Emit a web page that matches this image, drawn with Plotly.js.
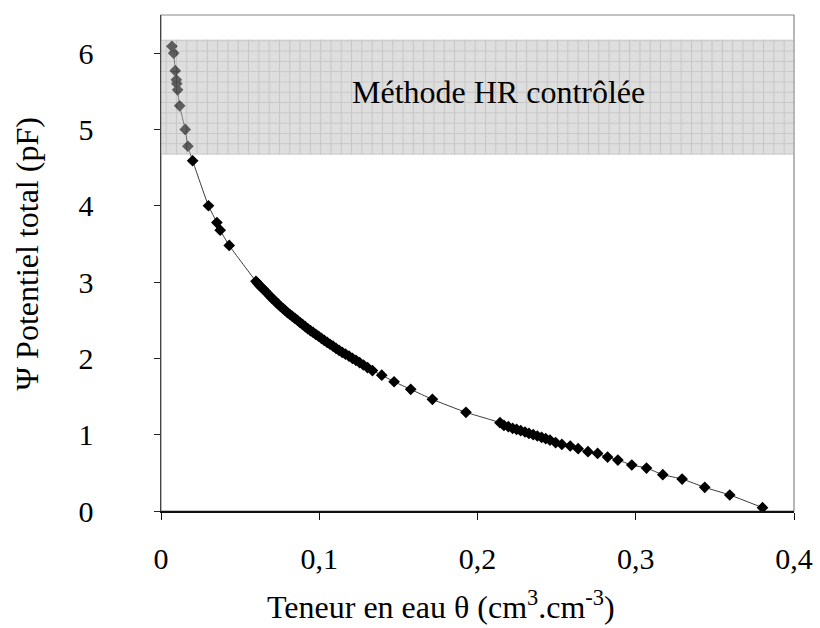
<!DOCTYPE html>
<html>
<head>
<meta charset="utf-8">
<script src="https://cdn.plot.ly/plotly-3.0.1.min.js"></script>
<style>html,body{margin:0;padding:0;background:#fff;}#chart{width:820px;height:628px;}</style>
</head>
<body>
<div id="chart"></div>
<script>
// Teneur en eau θ (cm3.cm-3)
const theta = [
  0.0069, 0.0080, 0.0090, 0.0097, 0.0100, 0.0105, 0.0118, 0.0153, 0.0170, 0.0200,
  0.0300, 0.0353, 0.0374, 0.0431,
  0.0600, 0.0612, 0.0623, 0.0635, 0.0648, 0.0660, 0.0673, 0.0687, 0.0700, 0.0714,
  0.0728, 0.0741, 0.0755, 0.0770, 0.0784, 0.0799, 0.0815, 0.0830, 0.0846, 0.0862,
  0.0878, 0.0894, 0.0911, 0.0927, 0.0944, 0.0961, 0.0978, 0.0996, 0.1014, 0.1032,
  0.1050, 0.1068, 0.1087, 0.1106, 0.1125, 0.1145, 0.1166, 0.1188, 0.1210, 0.1232,
  0.1255, 0.1279, 0.1305, 0.1336, 0.1395,
  0.1473, 0.1578, 0.1715, 0.1927,
  0.2142, 0.2167, 0.2195, 0.2222, 0.2247, 0.2273, 0.2300, 0.2325, 0.2352, 0.2378,
  0.2405, 0.2431, 0.2458, 0.2494, 0.2533, 0.2586, 0.2636, 0.2698, 0.2759, 0.2822,
  0.2887, 0.2975, 0.3068, 0.3171, 0.3293, 0.3436, 0.3594, 0.3801
];
// Ψ Potentiel total (pF)
const psi = [
  6.09, 6.00, 5.77, 5.65, 5.60, 5.52, 5.31, 5.00, 4.78, 4.59,
  4.00, 3.78, 3.68, 3.48,
  3.01, 2.98, 2.955, 2.93, 2.905, 2.88, 2.85, 2.82, 2.79, 2.765,
  2.735, 2.71, 2.68, 2.655, 2.63, 2.60, 2.575, 2.55, 2.525, 2.50,
  2.47, 2.445, 2.415, 2.39, 2.365, 2.34, 2.315, 2.29, 2.262, 2.235,
  2.21, 2.185, 2.16, 2.13, 2.105, 2.08, 2.055, 2.03, 2.00, 1.975,
  1.945, 1.913, 1.88, 1.84, 1.78,
  1.694, 1.594, 1.463, 1.293,
  1.157, 1.122, 1.105, 1.083, 1.070, 1.052, 1.035, 1.017, 1.000, 0.983,
  0.965, 0.948, 0.930, 0.895, 0.873, 0.852, 0.817, 0.777, 0.755, 0.707,
  0.668, 0.603, 0.563, 0.476, 0.419, 0.310, 0.210, 0.044
];
// Controlled-RH method zone
const bandTheta = [0, 0.4, 0.4, 0];
const bandPsi = [4.67, 4.67, 6.18, 6.18];
const bandLabel = 'Méthode HR contrôlée';
const xTickVals = [0, 0.1, 0.2, 0.3, 0.4];
const xTickText = ['0', '0,1', '0,2', '0,3', '0,4'];
const yTickVals = [0, 1, 2, 3, 4, 5, 6];
const xTitle = 'Teneur en eau θ (cm<sup>3</sup>.cm<sup>-3</sup>)';
const yTitle = 'Ψ Potentiel total (pF)';

const FONT = "'Liberation Serif', 'Times New Roman', serif";

const traces = [
  {
    x: theta, y: psi, type: 'scatter', mode: 'lines+markers',
    line: {color: '#3a3a3a', width: 1, shape: 'spline', smoothing: 0.5},
    marker: {symbol: 'diamond', size: 9, color: '#000'},
    showlegend: false, hoverinfo: 'skip'
  },
  {
    x: bandTheta, y: bandPsi, type: 'scatter', mode: 'none',
    fill: 'toself', fillcolor: '#bdbdbd',
    fillpattern: {shape: '+', bgcolor: '#bdbdbd', fgcolor: '#8f8f8f', size: 10.3, solidity: 0.2},
    opacity: 0.5, showlegend: false, hoverinfo: 'skip'
  }
];

const layout = {
  width: 820, height: 628,
  margin: {l: 161, r: 26, t: 15, b: 117, pad: 0},
  paper_bgcolor: '#fff', plot_bgcolor: '#fff',
  font: {family: FONT, size: 30, color: '#000'},
  showlegend: false, hovermode: false,
  xaxis: {
    range: [0, 0.4], tickvals: xTickVals, ticktext: xTickText,
    showgrid: false, zeroline: false, showline: true, linecolor: '#111', linewidth: 1.5,
    ticks: 'outside', ticklen: 7, tickwidth: 1, tickcolor: '#111',
    ticklabelstandoff: 13,
    tickfont: {family: FONT, size: 30, color: '#000'}
  },
  yaxis: {
    range: [0, 6.5], tickvals: yTickVals,
    showgrid: false, zeroline: false, showline: true, linecolor: '#444', linewidth: 1.5,
    ticks: 'outside', ticklen: 6, tickwidth: 1, tickcolor: '#222',
    ticklabelstandoff: 54,
    tickfont: {family: FONT, size: 30, color: '#000'}
  },
  shapes: [
    {type: 'rect', xref: 'paper', yref: 'paper', x0: 0, x1: 1, y0: 0, y1: 1,
     line: {color: '#888', width: 1.2}, layer: 'below'}
  ],
  annotations: [
    {text: bandLabel, xref: 'x', yref: 'y', x: 0.213, y: 5.49, showarrow: false,
     xanchor: 'center', yanchor: 'middle', font: {family: FONT, size: 32, color: '#000'}},
    {text: xTitle, xref: 'paper', yref: 'paper', x: 0.4424, y: -0.19, showarrow: false,
     xanchor: 'center', yanchor: 'middle', font: {family: FONT, size: 32, color: '#000'}},
    {text: yTitle, xref: 'paper', yref: 'paper', x: -0.211, y: 0.518, showarrow: false,
     textangle: -90, xanchor: 'center', yanchor: 'middle', font: {family: FONT, size: 32, color: '#000'}}
  ]
};

Plotly.newPlot('chart', traces, layout, {displayModeBar: false, staticPlot: true});
</script>
</body>
</html>
